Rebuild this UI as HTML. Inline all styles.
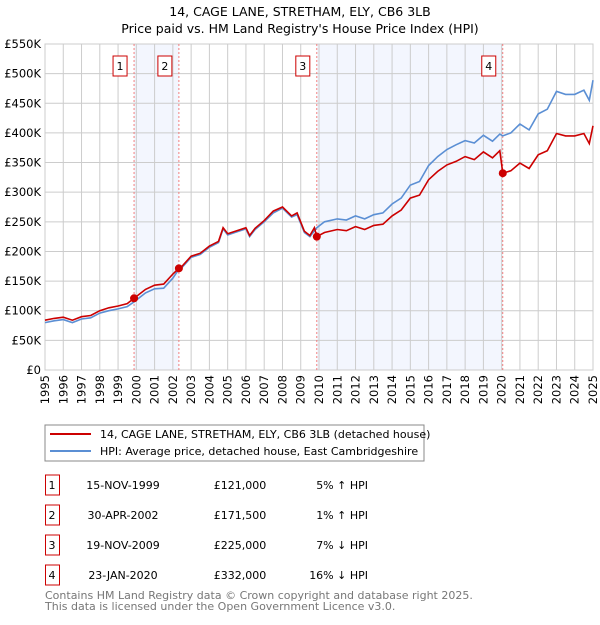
<!DOCTYPE html>
<html><head><meta charset="utf-8"><style>
body{margin:0;background:#fff;font-family:"Liberation Sans","DejaVu Sans",sans-serif;}
svg text{font-family:"DejaVu Sans","Liberation Sans",sans-serif;}
</style></head><body>
<svg id="c" width="600" height="620" viewBox="0 0 600 620">
<text x="300" y="16" text-anchor="middle" font-size="12.5">14, CAGE LANE, STRETHAM, ELY, CB6 3LB</text>
<text x="300" y="33" text-anchor="middle" font-size="12.5">Price paid vs. HM Land Registry's House Price Index (HPI)</text>
<g id="plot"></g>
<rect x="45" y="425" width="379" height="36" fill="#fff" stroke="#888"/>
<line x1="50" y1="434" x2="91" y2="434" stroke="#cc0000" stroke-width="2"/>
<text x="100" y="438" font-size="11">14, CAGE LANE, STRETHAM, ELY, CB6 3LB (detached house)</text>
<line x1="50" y1="451" x2="91" y2="451" stroke="#5b8fd4" stroke-width="2"/>
<text x="100" y="455" font-size="11">HPI: Average price, detached house, East Cambridgeshire</text>
<g id="table" font-size="11"></g>
<text x="45" y="599" font-size="11" fill="#777">Contains HM Land Registry data © Crown copyright and database right 2025.</text>
<text x="45" y="610" font-size="11" fill="#777">This data is licensed under the Open Government Licence v3.0.</text>
</svg>
<script>
const hpiDates=[1995,1995.5,1996,1996.5,1997,1997.5,1998,1998.5,1999,1999.5,1999.88,2000.5,2001,2001.5,2002,2002.33,2002.5,2003,2003.5,2004,2004.5,2004.75,2005,2005.5,2006,2006.2,2006.5,2007,2007.5,2008,2008.5,2008.8,2009.2,2009.5,2009.88,2010.3,2011,2011.5,2012,2012.5,2013,2013.5,2014,2014.5,2015,2015.5,2016,2016.5,2017,2017.5,2018,2018.5,2019,2019.5,2019.9,2020.06,2020.5,2021,2021.5,2022,2022.5,2023,2023.5,2024,2024.5,2024.8,2025];
const hpiValues=[80,83,85,80,86,88,96,100,103,107,115,130,137,138,155,170,173,190,195,207,215,238,228,233,238,225,237,250,265,273,258,262,232,225,240,250,255,253,260,255,262,265,280,290,312,318,345,360,372,380,387,383,396,386,398,395,400,415,405,432,440,470,465,465,472,455,489];
const ppDates=[1995,1995.5,1996,1996.5,1997,1997.5,1998,1998.5,1999,1999.5,1999.88,2000.5,2001,2001.5,2002,2002.33,2002.5,2003,2003.5,2004,2004.5,2004.75,2005,2005.5,2006,2006.2,2006.5,2007,2007.5,2008,2008.5,2008.8,2009.2,2009.5,2009.75,2009.88,2010.3,2011,2011.5,2012,2012.5,2013,2013.5,2014,2014.5,2015,2015.5,2016,2016.5,2017,2017.5,2018,2018.5,2019,2019.5,2019.9,2020.06,2020.5,2021,2021.5,2022,2022.5,2023,2023.5,2024,2024.5,2024.8,2025];
const ppValues=[84,87,89,84,90,92,100,105,108,112,121,136,143,145,162,171.5,175,192,197,209,217,240,230,235,240,227,239,252,268,275,260,265,234,227,240,225,232,237,235,242,237,244,246,260,270,290,295,321,335,346,352,360,355,368,358,370,332,336,349,340,363,370,399,395,395,399,382,412];
const saleLabels=["1","2","3","4"];
const saleDates=[1999.875,2002.33,2009.88,2020.06];
const salePrices=[121000,171500,225000,332000];
const saleDateText=["15-NOV-1999","30-APR-2002","19-NOV-2009","23-JAN-2020"];
const salePriceText=["£121,000","£171,500","£225,000","£332,000"];
const saleHpiText=["5% ↑ HPI","1% ↑ HPI","7% ↓ HPI","16% ↓ HPI"];
const yTicks=[0,50,100,150,200,250,300,350,400,450,500,550];
const yTickLabels=["£0","£50K","£100K","£150K","£200K","£250K","£300K","£350K","£400K","£450K","£500K","£550K"];
const xTicks=[1995,1996,1997,1998,1999,2000,2001,2002,2003,2004,2005,2006,2007,2008,2009,2010,2011,2012,2013,2014,2015,2016,2017,2018,2019,2020,2021,2022,2023,2024,2025];

const NS="http://www.w3.org/2000/svg";
const X0=45,X1=593,Y0=370,Y1=44;
const xs=d=>X0+(d-1995)/30*(X1-X0);
const ys=v=>Y0-v/550*(Y0-Y1);
const plot=document.getElementById('plot');
function mk(t,a,p){const e=document.createElementNS(NS,t);for(const k in a)e.setAttribute(k,a[k]);(p||plot).appendChild(e);return e;}
[[0,1],[2,3]].forEach((pr,i)=>{
 const r=mk('rect',{x:xs(saleDates[pr[0]]),y:Y1,width:xs(saleDates[pr[1]])-xs(saleDates[pr[0]]),height:Y0-Y1,fill:'#f3f6fe'});
 
 
});
yTicks.forEach((v,i)=>{
 const l=mk('line',{x1:X0,x2:X1,y1:ys(v),y2:ys(v),stroke:'#ccc'});
 
 
 const t=mk('text',{x:X0-4,y:ys(v)+4,'text-anchor':'end','font-size':'11.5'});
 t.textContent=yTickLabels[i];
 
 
});
xTicks.forEach(d=>{
 const l=mk('line',{x1:xs(d),x2:xs(d),y1:Y1,y2:Y0,stroke:'#ccc'});
 
 
 const t=mk('text',{x:0,y:0,'text-anchor':'end','font-size':'11.5',transform:`translate(${xs(d)+4},375) rotate(-90)`});
 t.textContent=d;
 
 
});
const ax=mk('rect',{x:X0,y:Y1,width:X1-X0,height:Y0-Y1,fill:'none',stroke:'#ccc'});


saleDates.forEach((d,i)=>{
 const l=mk('line',{x1:xs(d),x2:xs(d),y1:Y1,y2:Y0,stroke:'#f07070','stroke-dasharray':'2,2','stroke-width':0.9});
 
 
 const b=mk('rect',{x:xs(d)-21,y:56,width:14,height:20,fill:'#fff',stroke:'#cc0000'});
 
 
 const t=mk('text',{x:xs(d)-14,y:70,'text-anchor':'middle','font-size':'11'});
 t.textContent=saleLabels[i];
 
 
});
const hp=mk('path',{d:hpiDates.map((d,i)=>(i?'L':'M')+xs(d).toFixed(1)+','+ys(hpiValues[i]).toFixed(1)).join(''),fill:'none',stroke:'#5b8fd4','stroke-width':1.6});


const pp=mk('path',{d:ppDates.map((d,i)=>(i?'L':'M')+xs(d).toFixed(1)+','+ys(ppValues[i]).toFixed(1)).join(''),fill:'none',stroke:'#cc0000','stroke-width':1.6});


saleDates.forEach((d,i)=>{
 const c=mk('circle',{cx:xs(d),cy:ys(salePrices[i]/1000),r:4,fill:'#cc0000'});
 
 
});
const tb=document.getElementById('table');
const rowY=[485,515,545,575];
saleLabels.forEach((s,i)=>{
 const y=rowY[i];
 const b=mk('rect',{x:45.5,y:y-10,width:14,height:20,fill:'#fff',stroke:'#cc0000'},tb);
 
 
 const cols=[[52,s,'middle','row-number'],[123,saleDateText[i],'middle','sale-date'],[240,salePriceText[i],'middle','sale-price'],[368,saleHpiText[i],'end','sale-hpi-diff']];
 cols.forEach(c=>{
  const t=mk('text',{x:c[0],y:y+4,'text-anchor':c[2]},tb);
  t.textContent=c[1];
  
  
 });
});
</script>
</body></html>
